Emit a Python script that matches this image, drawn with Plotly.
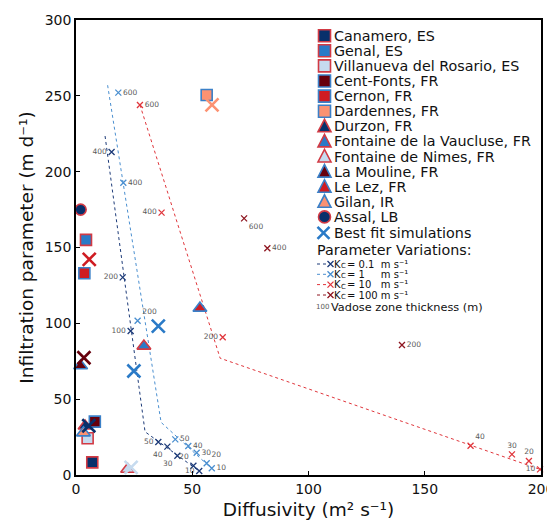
import plotly.graph_objects as go

# ---------------- data ----------------
site_names = ["Canamero, ES", "Genal, ES", "Villanueva del Rosario, ES", "Cent-Fonts, FR",
              "Cernon, FR", "Dardennes, FR", "Durzon, FR", "Fontaine de la Vaucluse, FR",
              "Fontaine de Nimes, FR", "La Mouline, FR", "Le Lez, FR", "Gilan, IR", "Assal, LB"]
site_diff = [7.0, 4.3, 5.0, 8.1, 3.6, 56.2, 3.9, 29.2, 22.2, 2.0, 53.3, 3.2, 2.0]
site_infil = [8.3, 155, 24.2, 35.2, 133, 250.5, 32.3, 85, 3.8, 72, 110, 27.8, 175]

bf_site = ["Cernon, FR", "Dardennes, FR", "La Mouline, FR", "Fontaine de la Vaucluse, FR",
           "Genal, ES", "Fontaine de Nimes, FR", "Durzon, FR"]
bf_diff = [5.7, 58.5, 3.4, 35.4, 24.9, 23.7, 5.5]
bf_infil = [142.2, 244, 77.3, 98.2, 68.6, 5.0, 32.5]

kc_names = ["0.1", "1", "10", "100"]
kc01_diff = [15.3, 20.1, 23.5, 35.4, 39.3, 43.6, 50.5, 53.0]
kc01_infil = [213, 130.3, 94.9, 21.8, 18.7, 12.7, 6.1, 2.6]
kc01_thick = [400, 200, 100, 50, 40, 30, 20, 10]
kc01_line_diff = [12.5, 29.7, 53.5]
kc01_line_infil = [223.5, 28.5, 2.0]

kc1_diff = [18.2, 20.35, 26.5, 42.7, 48.3, 51.9, 56.2, 58.4]
kc1_infil = [252.1, 192.7, 101.7, 23.5, 19.1, 14.7, 7.7, 4.4]
kc1_thick = [600, 400, 200, 50, 40, 30, 20, 10]
kc1_line_diff = [13.6, 36.6, 58.5]
kc1_line_infil = [257, 34.7, 4.0]

kc10_diff = [27.5, 36.8, 63.1, 169.7, 187.5, 194.8, 199.6]
kc10_infil = [244, 173, 90.8, 19.3, 13.6, 9.2, 3.7]
kc10_thick = [600, 400, 200, 40, 30, 20, 10]
kc10_line_diff = [27.5, 62.0, 200.0]
kc10_line_infil = [244, 77, 3.5]

kc100_diff = [72.3, 82.3, 140.2]
kc100_infil = [169.2, 149.5, 85.7]
kc100_thick = [600, 400, 200]

x_ticks = [0, 50, 100, 150, 200]
y_ticks = [0, 50, 100, 150, 200, 250, 300]

# ---------------- style ----------------
OFF = 8                      # page body offset of the figure
W, H = 555 - OFF, 520 - OFF
PL, PR, PT, PB = 76, 541, 20, 475   # plot area in screenshot pixels
ML, MT = PL - OFF, PT - OFF
MR, MB = W - (PR - OFF), H - (PB - OFF)
PW, PH = PR - PL, PB - PT
FONT = "DejaVu Sans"

NAVY, BLUE, LIGHT = "#08306b", "#2a7ac7", "#c6dbef"
MAROON, RED, SALMON = "#67000d", "#cf1c22", "#fc9272"
EDGE_RED, EDGE_BLUE = "#d23a44", "#3b80c8"

fills = {"Canamero, ES": NAVY, "Genal, ES": BLUE, "Villanueva del Rosario, ES": LIGHT,
         "Cent-Fonts, FR": MAROON, "Cernon, FR": RED, "Dardennes, FR": SALMON,
         "Durzon, FR": NAVY, "Fontaine de la Vaucluse, FR": BLUE, "Fontaine de Nimes, FR": LIGHT,
         "La Mouline, FR": MAROON, "Le Lez, FR": RED, "Gilan, IR": SALMON, "Assal, LB": NAVY}
symbols = ["square"] * 6 + ["triangle-up"] * 6 + ["circle"]
sym_size = {"square": 11, "triangle-up": 12, "circle": 11}

def edge_for(c):
    return EDGE_RED if c in (NAVY, BLUE, LIGHT) else EDGE_BLUE

kc_colors = ["#1c3a78", "#4a8fd0", "#e0363c", "#8e1620"]
LABEL_COLOR = "#5a5a5a"

fig = go.Figure()

# simulation lines
for lx, ly, col in [(kc01_line_diff, kc01_line_infil, kc_colors[0]),
                    (kc1_line_diff, kc1_line_infil, kc_colors[1]),
                    (kc10_line_diff, kc10_line_infil, kc_colors[2])]:
    fig.add_trace(go.Scatter(x=lx, y=ly, mode="lines", showlegend=False,
                             line=dict(color=col, width=1, dash="dot")))

# simulation markers with thickness labels
sims = [
    (kc01_diff, kc01_infil, kc01_thick, kc_colors[0],
     ["middle left", "middle left", "middle left", "middle left", "bottom left",
      "bottom left", "top left", "middle left"]),
    (kc1_diff, kc1_infil, kc1_thick, kc_colors[1],
     ["middle right", "middle right", "top right", "middle right", "middle right",
      "middle right", "top right", "middle right"]),
    (kc10_diff, kc10_infil, kc10_thick, kc_colors[2],
     ["middle right", "middle left", "middle left", "top right", "top center",
      "top center", "middle left"]),
    (kc100_diff, kc100_infil, kc100_thick, kc_colors[3],
     ["bottom right", "middle right", "middle right"]),
]
for sx, sy, st, col, tp in sims:
    fig.add_trace(go.Scatter(x=sx, y=sy, mode="markers+text", text=[str(t) for t in st],
                             textposition=tp, showlegend=False, cliponaxis=False,
                             textfont=dict(family=FONT, size=7.5, color=LABEL_COLOR),
                             marker=dict(symbol="x-thin", size=6,
                                         line=dict(color=col, width=1.3))))

# sites
for i, name in enumerate(site_names):
    c = fills[name]
    s = symbols[i]
    fig.add_trace(go.Scatter(x=[site_diff[i]], y=[site_infil[i]], mode="markers",
                             name=name, showlegend=False, cliponaxis=False,
                             marker=dict(symbol=s, size=sym_size[s], color=c,
                                         line=dict(color=edge_for(c), width=1.6))))

# best fit simulations
fig.add_trace(go.Scatter(x=bf_diff, y=bf_infil, mode="markers", showlegend=False,
                         cliponaxis=False,
                         marker=dict(symbol="x-thin", size=13,
                                     line=dict(color=[fills[s] for s in bf_site], width=2.6))))

# ---------------- manual legend ----------------
def xp(px):
    return (px - PL) / PW

def yp(py):
    return (PB - py) / PH

shapes, annots = [], []
SYM_X, TXT_X, ROW0, STEP = 324.5, 333.5, 35.7, 15.1

def add_text(px, py, text, size, color="#111111"):
    annots.append(dict(x=xp(px), y=yp(py), xref="paper", yref="paper", text=text,
                       showarrow=False, xanchor="left", yanchor="middle",
                       borderpad=0, borderwidth=0,
                       font=dict(family=FONT, size=size, color=color)))

def pix_shape(px, py, **kw):
    d = dict(xref="paper", yref="paper", xsizemode="pixel", ysizemode="pixel",
             xanchor=xp(px), yanchor=yp(py), layer="above")
    d.update(kw)
    shapes.append(d)

for i, name in enumerate(site_names):
    py = ROW0 + STEP * i
    c = fills[name]
    e = edge_for(c)
    s = symbols[i]
    if s == "square":
        pix_shape(SYM_X, py, type="rect", x0=-6, x1=6, y0=-6, y1=6,
                  fillcolor=c, line=dict(color=e, width=1.6))
    elif s == "triangle-up":
        pix_shape(SYM_X, py, type="path", path="M-6.5,-5.5L6.5,-5.5L0,7Z",
                  fillcolor=c, line=dict(color=e, width=1.6))
    else:
        pix_shape(SYM_X, py, type="circle", x0=-6, x1=6, y0=-6, y1=6,
                  fillcolor=c, line=dict(color=e, width=1.6))
    add_text(TXT_X, py, name, 14.3)

py_bf = ROW0 + STEP * 13 + 0.8
pix_shape(SYM_X - 1, py_bf, type="path", path="M-6,-6L6,6M-6,6L6,-6",
          line=dict(color=BLUE, width=2.6))
add_text(TXT_X, py_bf, "Best fit simulations", 14.3)
add_text(317, 250, "Parameter Variations:", 14.3)

# pad values so that the unit column lines up (figure / punctuation spaces)
pads = {"0.1": "\u2008", "1": "\u2007\u2007", "10": "\u2007", "100": ""}
kc_rows = [264, 274.3, 284.6, 295]
for name, col, py in zip(kc_names, kc_colors, kc_rows):
    pix_shape(322, py, type="line", x0=-5, x1=5, y0=0, y1=0,
              line=dict(color=col, width=1, dash="dot"))
    pix_shape(330.5, py, type="path", path="M-3,-3L3,3M-3,3L3,-3",
              line=dict(color=col, width=1.3))
    add_text(334, py, "K", 10)
    add_text(341.3, py + 2.0, "C", 7)
    add_text(347, py, "= " + name + pads[name] + " m s⁻¹", 10)

add_text(316, 307.2, "100", 7, LABEL_COLOR)
add_text(330.5, 307.2, "Vadose zone thickness (m)", 11.3)

axis_common = dict(showline=True, linecolor="black", linewidth=1.5, mirror=True,
                   ticks="inside", ticklen=4, tickcolor="black", showgrid=False,
                   zeroline=False, automargin=False,
                   tickfont=dict(family=FONT, size=14, color="#111111"))

fig.update_layout(
    width=W, height=H, autosize=False,
    margin=dict(l=ML, r=MR, t=MT, b=MB, pad=0),
    paper_bgcolor="white", plot_bgcolor="white",
    showlegend=False,
    font=dict(family=FONT),
    shapes=shapes, annotations=annots,
    xaxis=dict(range=[0, 200], tickvals=x_ticks,
               title=dict(text="Diffusivity (m² s⁻¹)",
                          font=dict(family=FONT, size=18.5, color="#111111")),
               **axis_common),
    yaxis=dict(range=[0, 300], tickvals=y_ticks,
               title=dict(text="Infiltration parameter (m d⁻¹)", standoff=6,
                          font=dict(family=FONT, size=18.5, color="#111111")),
               **axis_common),
)

fig.write_html("out.html")
